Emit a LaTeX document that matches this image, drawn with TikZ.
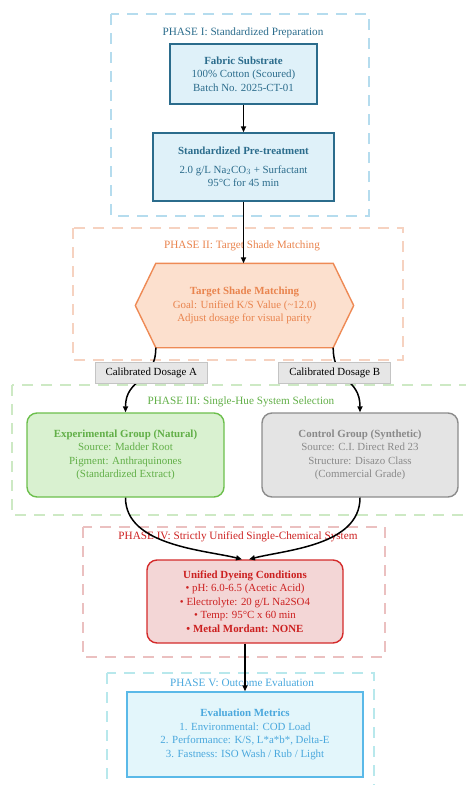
\documentclass[tikz,border=0pt]{standalone}
\usepackage{fontspec}
\setmainfont{Liberation Serif}
\usetikzlibrary{arrows.meta,calc}
\definecolor{c1line}{HTML}{B5DCEE}
\definecolor{c1fill}{HTML}{DFF1F9}
\definecolor{c1draw}{HTML}{2B6C8C}
\definecolor{c2line}{HTML}{F6D2C0}
\definecolor{c2fill}{HTML}{FCE0CE}
\definecolor{c2draw}{HTML}{EE8A55}
\definecolor{c2text}{HTML}{E9844E}
\definecolor{c3line}{HTML}{CDE9C4}
\definecolor{c3fill}{HTML}{D9F1D0}
\definecolor{c3draw}{HTML}{6CBF4C}
\definecolor{c3text}{HTML}{62AF48}
\definecolor{cgfill}{HTML}{E4E4E4}
\definecolor{cgdraw}{HTML}{8C8C8C}
\definecolor{cgtext}{HTML}{8A8A8A}
\definecolor{c4line}{HTML}{EBC0C0}
\definecolor{c4fill}{HTML}{F3D6D6}
\definecolor{c4draw}{HTML}{D42B2B}
\definecolor{c4text}{HTML}{CC2020}
\definecolor{c5line}{HTML}{B8E8EC}
\definecolor{c5fill}{HTML}{E3F6FB}
\definecolor{c5draw}{HTML}{5AB9E8}
\definecolor{c5text}{HTML}{4AA8DD}
\definecolor{dosfill}{HTML}{E6E6E6}
\definecolor{dosdraw}{HTML}{C4C4C4}
\tikzset{
  cluster/.style={line width=1.6pt, dash pattern=on 11pt off 8pt},
  phase/.style={font=\fontsize{11.2}{13}\selectfont, inner sep=0pt},
  box/.style={font=\fontsize{10.9}{13.5}\selectfont, align=center, inner sep=0pt, line width=1.4pt},
  dos/.style={font=\fontsize{10.9}{12}\selectfont, fill=dosfill, draw=dosdraw, line width=0.6pt, minimum width=112pt, minimum height=21pt, inner sep=0pt},
  arr/.style={line width=1.5pt, -{Triangle[length=6pt,width=5pt]}},
  conn/.style={line width=1.5pt}
}
\begin{document}
\begin{tikzpicture}[x=1pt,y=-1pt]
\useasboundingbox (0,0) rectangle (466,785);
\clip (0,0) rectangle (466,785);
% clusters
\draw[cluster, c1line] (111,14) rectangle (369,216);
\draw[cluster, c2line] (73,228) rectangle (403,360);
\draw[cluster, c3line] (12,385) rectangle (472,515);
\draw[cluster, c4line] (83,527) rectangle (385,657);
\draw[cluster, c5line] (107,673) rectangle (374,800);
% phase labels
\node[phase, text=c1draw] (p1) at (243,33) {PHASE I: Standardized Preparation};
\node[phase, text=c2text] (p2) at (242,246) {PHASE II: Target Shade Matching};
\node[phase, text=c3text] (p3) at (241,402) {PHASE III: Single-Hue System Selection};
\node[phase, text=c4text] (p4) at (238,537) {PHASE IV: Strictly Unified Single-Chemical System};
\node[phase, text=c5text] (p5) at (242,683) {PHASE V: Outcome Evaluation};
% nodes
\node[box, draw=c1draw, fill=c1fill, text=c1draw, minimum width=147pt, minimum height=60pt] (fab) at (243.5,74)
  {\textbf{Fabric Substrate}\\100\% Cotton (Scoured)\\Batch No. 2025-CT-01};
\node[box, draw=c1draw, fill=c1fill, text=c1draw, minimum width=181pt, minimum height=68pt] (pre) at (243.5,167)
  {\textbf{Standardized Pre-treatment}\\[5pt]2.0 g/L Na$_2$CO$_3$ + Surfactant\\95°C for 45 min};
\node[box, minimum width=217pt, minimum height=83pt] (hex) at (244.5,305.5) {};
\coordinate (hexbl) at ($(hex.south west)+(20.5,0)$);
\coordinate (hexbr) at ($(hex.south east)+(-20.5,0)$);
\coordinate (hextl) at ($(hex.north west)+(20.5,0)$);
\coordinate (hextr) at ($(hex.north east)+(-20.5,0)$);
\draw[line width=1.4pt, draw=c2draw, fill=c2fill] (hex.west) -- (hextl) -- (hextr) -- (hex.east) -- (hexbr) -- (hexbl) -- cycle;
\node[box, text=c2text] (hextext) at (hex.center)
  {\textbf{Target Shade Matching}\\Goal: Unified K/S Value (\textasciitilde12.0)\\Adjust dosage for visual parity};
\node[box, draw=c3draw, fill=c3fill, text=c3text, rounded corners=10pt, minimum width=197pt, minimum height=84pt] (exp) at (125.5,455)
  {\textbf{Experimental Group (Natural)}\\Source: Madder Root\\Pigment: Anthraquinones\\(Standardized Extract)};
\node[box, draw=cgdraw, fill=cgfill, text=cgtext, rounded corners=10pt, minimum width=196pt, minimum height=84pt] (ctl) at (360,455)
  {\textbf{Control Group (Synthetic)}\\Source: C.I. Direct Red 23\\Structure: Disazo Class\\(Commercial Grade)};
\node[box, draw=c4draw, fill=c4fill, text=c4text, rounded corners=10pt, minimum width=196pt, minimum height=83pt] (uni) at (245,601.5)
  {\textbf{Unified Dyeing Conditions}\\• pH: 6.0-6.5 (Acetic Acid)\\• Electrolyte: 20 g/L Na2SO4\\• Temp: 95°C x 60 min\\\textbf{• Metal Mordant: NONE}};
\node[box, draw=c5draw, fill=c5fill, text=c5text, minimum width=236pt, minimum height=85pt] (eval) at (245,734.5)
  {\textbf{Evaluation Metrics}\\1. Environmental: COD Load\\2. Performance: K/S, L*a*b*, Delta-E\\3. Fastness: ISO Wash / Rub / Light};
% connectors
\draw[arr] (fab.south) -- (pre.north);
\draw[arr] (pre.south) -- (pre.south |- hex.north);
\draw[arr] (hexbl) .. controls +(0,35) and +(0,-35) .. (exp.north)
  node[dos, pos=0.35, xshift=4pt] (dosA) {Calibrated Dosage A};
\draw[arr] (hexbr) .. controls +(0,35) and +(0,-35) .. (ctl.north)
  node[dos, pos=0.35, xshift=-6pt] (dosB) {Calibrated Dosage B};
\draw[arr] (exp.south) .. controls +(0,48) and (205,550) .. ([xshift=-3pt]uni.north);
\draw[arr] (ctl.south) .. controls +(0,48) and (285,550) .. ([xshift=4pt]uni.north);
\draw[arr] (uni.south) -- (uni.south |- eval.north);
\end{tikzpicture}
\end{document}
